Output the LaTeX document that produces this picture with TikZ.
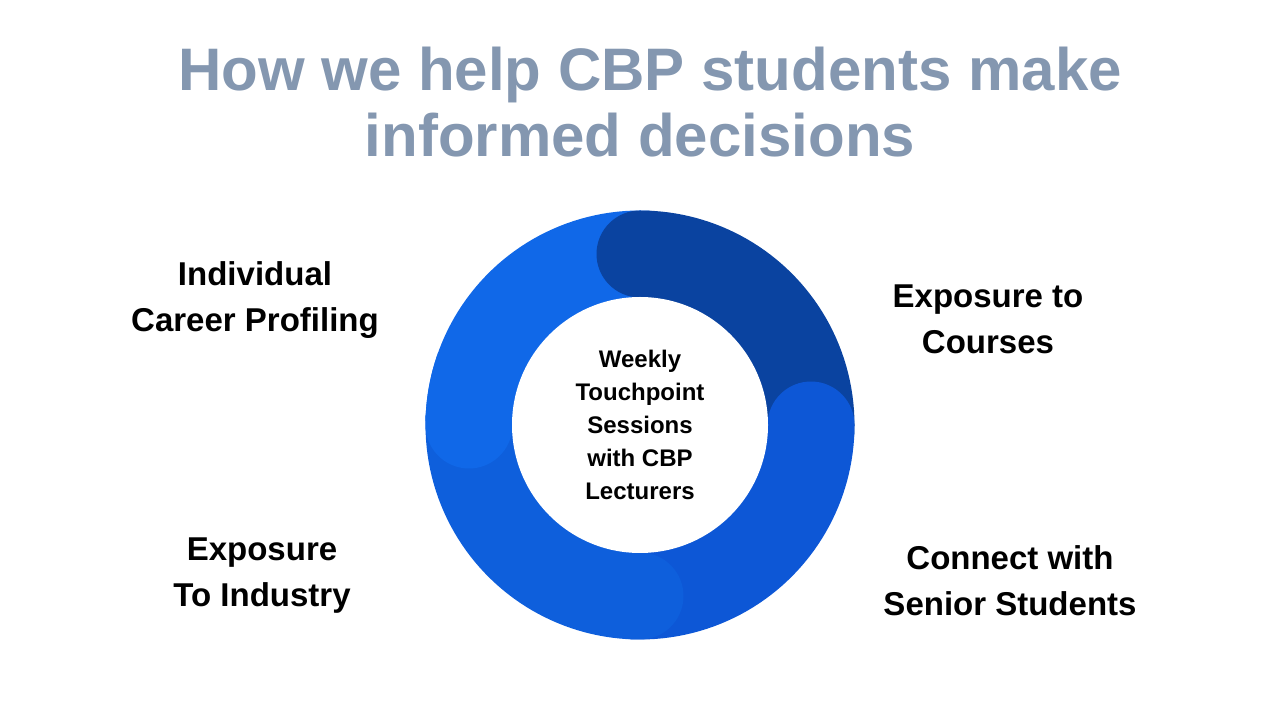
\documentclass[tikz,border=0pt]{standalone}
\usepackage{fontspec}
\setmainfont{Liberation Sans}
\definecolor{ttl}{HTML}{8497B0}
\definecolor{cA}{HTML}{1068E8}
\definecolor{cB}{HTML}{0A43A0}
\definecolor{cC}{HTML}{0D57D6}
\definecolor{cD}{HTML}{0E5FDC}
\begin{document}
\begin{tikzpicture}[x=1pt,y=1pt,
  seg/.style={line width=87pt},
  lbl/.style={font=\fontsize{33}{46}\selectfont\bfseries, align=center, text=black}]
\useasboundingbox (0,0) rectangle (1280,720);
\coordinate (c) at (640,295);
\node[font=\fontsize{60}{60}\selectfont\bfseries, text=ttl] (t1) at (650,645) {How we help CBP students make};
\node[font=\fontsize{60}{60}\selectfont\bfseries, text=ttl] (t2) at (640,585) {informed decisions};
% ring segments
\draw[seg,cA,line cap=round] ([shift={(180:171)}]c) arc[start angle=180,end angle=88,radius=171];
\draw[seg,cB,line cap=round] ([shift={(90:171)}]c) arc[start angle=90,end angle=-2,radius=171];
\draw[seg,cC,line cap=round] ([shift={(0:171)}]c) arc[start angle=0,end angle=-92,radius=171];
\draw[seg,cD,line cap=round] ([shift={(-90:171)}]c) arc[start angle=-90,end angle=-182,radius=171];
\draw[seg,cA,line cap=round] ([shift={(180:171)}]c) arc[start angle=180,end angle=178,radius=171];
\draw[seg,cA] ([shift={(179:171)}]c) arc[start angle=179,end angle=160,radius=171];
\fill[white] (c) circle (128);
\node[font=\fontsize{24}{33}\selectfont\bfseries, align=center] (ctr) at (c) {Weekly\\Touchpoint\\Sessions\\with CBP\\Lecturers};
\node[lbl] (l1) at (255,420) {Individual\\Career Profiling};
\node[lbl] (l2) at (988,401) {Exposure to\\Courses};
\node[lbl] (l3) at (1010,139) {Connect with\\Senior Students};
\node[lbl] (l4) at (262,144) {Exposure\\To Industry};
\end{tikzpicture}
\end{document}
